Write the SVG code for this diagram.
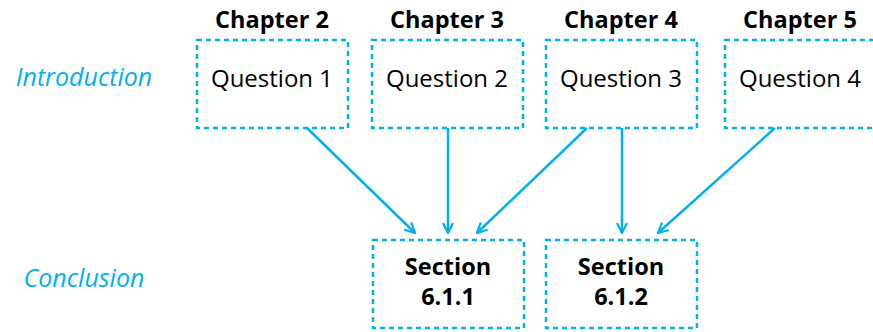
<svg xmlns="http://www.w3.org/2000/svg" width="873" height="332" viewBox="0 0 873 332">
<defs>
<style>
.box{fill:none;stroke:#00B0F0;stroke-width:2.5;stroke-dasharray:5 4}
.q{font-family:"Open Sans","Noto Sans",sans-serif;font-size:24px;fill:#000;text-anchor:middle}
.h{font-family:"Open Sans","Noto Sans",sans-serif;font-size:23.5px;font-weight:bold;fill:#000;text-anchor:middle}
.lab{font-family:"Open Sans","Noto Sans",sans-serif;font-size:25px;font-style:italic;fill:#00B0F0;text-anchor:middle}
.c{stroke:#00B0F0;stroke-width:2.5;fill:none;marker-end:url(#ah)}
</style>
<marker id="ah" viewBox="0 0 12 12" refX="11" refY="6" markerWidth="12" markerHeight="12" markerUnits="userSpaceOnUse" orient="auto">
<polyline points="1,1 11,6 1,11" fill="none" stroke="#00B0F0" stroke-width="2.2"/>
</marker>
</defs>
<rect width="873" height="332" fill="#fff"/>
<text class="lab" x="84" y="86">Introduction</text>
<text class="lab" x="84" y="287">Conclusion</text>
<g id="q1">
<text class="h" x="272" y="28">Chapter 2</text>
<rect class="box" x="197" y="40" width="151" height="88"/>
<text class="q" x="272" y="87">Question 1</text>
</g>
<g id="q2">
<text class="h" x="447" y="28">Chapter 3</text>
<rect class="box" x="372" y="40" width="151" height="88"/>
<text class="q" x="447" y="87">Question 2</text>
</g>
<g id="q3">
<text class="h" x="621" y="28">Chapter 4</text>
<rect class="box" x="546" y="40" width="151" height="88"/>
<text class="q" x="621" y="87">Question 3</text>
</g>
<g id="q4">
<text class="h" x="800" y="28">Chapter 5</text>
<rect class="box" x="725" y="40" width="151" height="88"/>
<text class="q" x="800" y="87">Question 4</text>
</g>
<g id="s1">
<rect class="box" x="373" y="240" width="151" height="88"/>
<text class="h" x="448" y="275">Section</text>
<text class="h" x="448" y="305">6.1.1</text>
</g>
<g id="s2">
<rect class="box" x="546" y="240" width="151" height="88"/>
<text class="h" x="621" y="275">Section</text>
<text class="h" x="621" y="305">6.1.2</text>
</g>
<g id="connectors">
<line class="c" x1="307" y1="128" x2="415" y2="233"/>
<line class="c" x1="448" y1="128" x2="448" y2="233"/>
<line class="c" x1="587" y1="128" x2="477" y2="233"/>
<line class="c" x1="622" y1="128" x2="622" y2="233"/>
<line class="c" x1="775" y1="128" x2="658" y2="233"/>
</g>
</svg>
